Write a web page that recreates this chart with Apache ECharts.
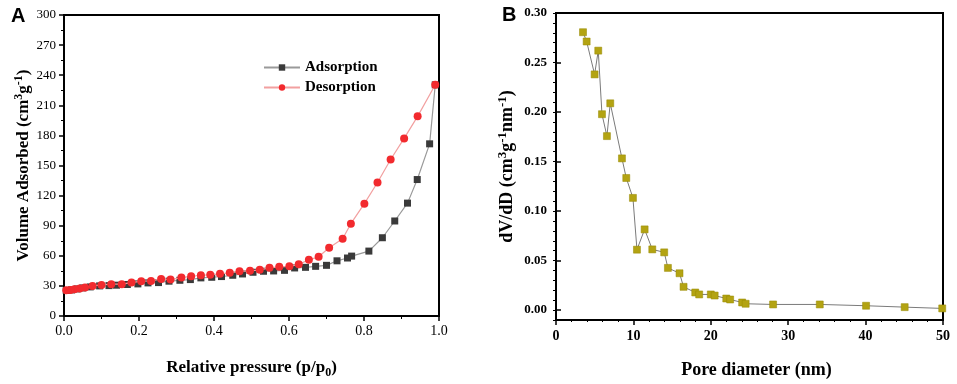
<!DOCTYPE html>
<html>
<head>
<meta charset="utf-8">
<script src="https://cdn.jsdelivr.net/npm/echarts@6/dist/echarts.min.js"></script>
<style>
  html, body { margin: 0; padding: 0; background: #fff; }
  #chart { width: 957px; height: 384px; }
</style>
</head>
<body>
<div id="chart"></div>
<script>
// panel A: N2 isotherm (p/p0, cm3/g)
var adsP = [0.006, 0.02, 0.035, 0.05, 0.07, 0.095, 0.12, 0.140, 0.169, 0.197, 0.224, 0.252, 0.280, 0.309, 0.337,
    0.365, 0.394, 0.420, 0.450, 0.476, 0.504, 0.532, 0.559, 0.588, 0.615, 0.644, 0.671, 0.700,
    0.728, 0.756, 0.767, 0.813, 0.849, 0.882, 0.916, 0.942, 0.975, 0.990];
var adsV = [25.5, 26, 27, 28, 29, 30, 30.3, 30.7, 31.4, 32, 33, 33.3, 34.7, 35.6, 36.3,
    38, 38.6, 39.3, 40.6, 41.9, 43.6, 44.6, 44.9, 45.5, 47.9, 48.5, 49.5, 50.5,
    55, 57.8, 59.7, 64.7, 78, 94.7, 112.5, 136, 171.6, 230.4];
var desP = [0.990, 0.943, 0.907, 0.871, 0.836, 0.801, 0.765, 0.743, 0.707, 0.679, 0.653, 0.626, 0.601,
    0.574, 0.548, 0.522, 0.496, 0.468, 0.442, 0.416, 0.390, 0.365, 0.339, 0.313, 0.284, 0.259,
    0.232, 0.206, 0.180, 0.154, 0.126, 0.100, 0.076, 0.056, 0.042, 0.028, 0.017, 0.006];
var desV = [230.4, 199, 177, 156, 133, 112, 92, 77, 68, 59, 56, 51.5, 49.5,
    49, 48, 46, 45, 44.5, 43, 42, 41, 40.6, 39.6, 38.3, 36.3, 37,
    35, 34.7, 33.3, 31.7, 31.7, 31, 30, 28.4, 27.4, 26.7, 26, 25.7];

// panel B: pore size distribution (nm, cm3/g/nm)
var poreD = [3.49, 3.96, 4.99, 5.46, 5.94, 6.58, 7.01, 8.52, 9.08, 9.94, 10.46, 11.45, 12.44, 13.98,
    14.46, 15.96, 16.48, 17.99, 18.50, 20.0, 20.5, 22.0, 22.5, 24.05, 24.5, 28.05, 34.08, 40.06, 45.05, 49.9];
var dvdd = [0.2806, 0.2712, 0.238, 0.262, 0.1978, 0.1757, 0.2088, 0.1532, 0.1334, 0.1133, 0.0610, 0.0815, 0.0613, 0.0583,
    0.0426, 0.0372, 0.0235, 0.0178, 0.0158, 0.0158, 0.0147, 0.0117, 0.0107, 0.0077, 0.0064, 0.0057, 0.0057, 0.0044, 0.0030, 0.0017];

var majorB = [0, 0.05, 0.10, 0.15, 0.20, 0.25, 0.30];

function pairs(xs, ys) {
    return xs.map(function (x, i) { return [x, ys[i]]; });
}

var serif = '"Liberation Serif", "Times New Roman", serif';
var nameRich = {
    a: { fontFamily: serif, fontWeight: 'bold', fontSize: 17, color: '#000' },
    sup: { fontFamily: serif, fontWeight: 'bold', fontSize: 12, color: '#000', padding: [0, 0, 10, 0] },
    sub: { fontFamily: serif, fontWeight: 'bold', fontSize: 12, color: '#000', padding: [10, 0, 0, 0] }
};
var nameRichB = {
    a: { fontFamily: serif, fontWeight: 'bold', fontSize: 18, color: '#000' },
    sup: { fontFamily: serif, fontWeight: 'bold', fontSize: 13, color: '#000', padding: [0, 0, 10, 0] }
};

var myChart = echarts.init(document.getElementById('chart'));
var option = {
    animation: false,
    title: [
        { text: 'A', left: 6, top: 1, textStyle: { fontFamily: 'Liberation Sans', fontWeight: 'bold', fontSize: 20, color: '#000' } },
        { text: 'B', left: 497, top: 0, textStyle: { fontFamily: 'Liberation Sans', fontWeight: 'bold', fontSize: 20, color: '#000' } }
    ],
    legend: {
        orient: 'vertical',
        left: 258,
        top: 55,
        itemWidth: 36,
        itemHeight: 8,
        itemGap: 5,
        textStyle: { fontFamily: serif, fontWeight: 'bold', fontSize: 15, color: '#000' },
        data: ['Adsorption', 'Desorption']
    },
    grid: [
        { left: 64, right: 518, top: 15, bottom: 66, show: true, borderColor: '#000', borderWidth: 2 },
        { left: 556, right: 14, top: 13, bottom: 62, show: true, borderColor: '#000', borderWidth: 2 }
    ],
    xAxis: [{
        gridIndex: 0, type: 'value', min: 0, max: 1, interval: 0.2,
        name: '{a|Relative pressure (p/p}{sub|0}{a|)}', nameLocation: 'middle', nameGap: 41,
        nameTextStyle: { rich: nameRich },
        axisLine: { lineStyle: { color: '#000', width: 2 } },
        axisTick: { length: 5, lineStyle: { color: '#000', width: 1.5 } },
        minorTick: { show: true, splitNumber: 2, length: 3, lineStyle: { color: '#000' } },
        splitLine: { show: false },
        axisLabel: { fontFamily: serif, fontSize: 14, color: '#000', margin: 8,
            formatter: function (v) { return v.toFixed(1); } }
    }, {
        gridIndex: 1, type: 'value', min: 0, max: 50, interval: 10,
        name: 'Pore diameter (nm)', nameLocation: 'middle', nameGap: 41,
        nameTextStyle: { fontFamily: serif, fontWeight: 'bold', fontSize: 18, color: '#000', padding: [0, 0, 0, 14] },
        axisLine: { onZero: false, lineStyle: { color: '#000', width: 2 } },
        axisTick: { length: 5, lineStyle: { color: '#000', width: 1.5 } },
        minorTick: { show: true, splitNumber: 5, length: 2, lineStyle: { color: '#000' } },
        splitLine: { show: false },
        axisLabel: { fontFamily: serif, fontWeight: 'bold', fontSize: 14, color: '#000', margin: 9 }
    }],
    yAxis: [{
        gridIndex: 0, type: 'value', min: 0, max: 300, interval: 30,
        name: '{a|Volume Adsorbed (cm}{sup|3}{a|g}{sup|-1}{a|)}', nameLocation: 'middle', nameGap: 28,
        nameTextStyle: { rich: nameRich },
        axisLine: { lineStyle: { color: '#000', width: 2 } },
        axisTick: { length: 5, lineStyle: { color: '#000', width: 1.5 } },
        minorTick: { show: true, splitNumber: 2, length: 3, lineStyle: { color: '#000' } },
        splitLine: { show: false },
        axisLabel: { fontFamily: serif, fontSize: 13, color: '#000', margin: 8 }
    }, {
        gridIndex: 1, type: 'value', min: -0.01, max: 0.30, interval: 0.01,
        name: '{a|dV/dD (cm}{sup|3}{a|g}{sup|-1}{a|nm}{sup|-1}{a|)}', nameLocation: 'middle', nameGap: 37,
        nameTextStyle: { rich: nameRichB },
        axisLine: { onZero: false, lineStyle: { color: '#000', width: 2 } },
        axisTick: { length: 3, lineStyle: { color: '#000', width: 1 } },
        splitLine: { show: false },
        axisLabel: { customValues: majorB, fontFamily: serif, fontWeight: 'bold', fontSize: 13, color: '#000', margin: 9,
            formatter: function (v) { return v.toFixed(2); } }
    }, {
        // major ticks for panel B
        gridIndex: 1, type: 'value', min: -0.01, max: 0.30, interval: 0.01,
        axisLine: { show: false },
        axisTick: { customValues: majorB, length: 5, lineStyle: { color: '#000', width: 1.5 } },
        axisLabel: { show: false },
        splitLine: { show: false }
    }],
    series: [{
        name: 'Adsorption', type: 'line', xAxisIndex: 0, yAxisIndex: 0,
        data: pairs(adsP, adsV),
        symbol: 'rect', symbolSize: 7,
        itemStyle: { color: '#3a3a3a' },
        lineStyle: { color: '#9a9a9a', width: 1.2 },
        z: 2
    }, {
        name: 'Desorption', type: 'line', xAxisIndex: 0, yAxisIndex: 0,
        data: pairs(desP, desV),
        symbol: 'circle', symbolSize: 8,
        itemStyle: { color: '#f22a2e' },
        lineStyle: { color: '#f2a0a0', width: 1.2 },
        z: 3
    }, {
        name: 'PSD', type: 'line', xAxisIndex: 1, yAxisIndex: 1,
        data: pairs(poreD, dvdd),
        symbol: 'rect', symbolSize: 7,
        itemStyle: { color: '#b3a312', borderColor: '#968800', borderWidth: 0.5 },
        lineStyle: { color: '#7a7a7a', width: 1 }
    }]
};
myChart.setOption(option);
</script>
</body>
</html>
